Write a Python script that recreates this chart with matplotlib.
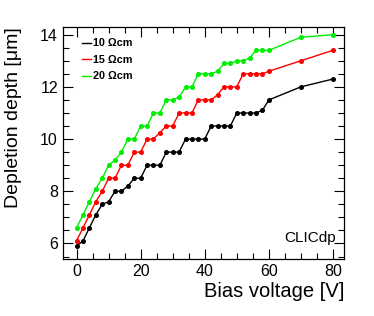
import matplotlib
matplotlib.use("Agg")
import matplotlib.pyplot as plt
from matplotlib.ticker import MultipleLocator

plt.rcParams["font.family"] = ["Liberation Sans", "DejaVu Sans"]

bias = [0, 2, 4, 6, 8, 10, 12, 14, 16, 18, 20, 22, 24, 26, 28, 30, 32,
        34, 36, 38, 40, 42, 44, 46, 48, 50, 52, 54, 56, 58, 60, 70, 80]
depth_10 = [5.9, 6.1, 6.6, 7.1, 7.5, 7.6, 8.0, 8.0, 8.2, 8.5, 8.5, 9.0, 9.0, 9.0,
            9.5, 9.5, 9.5, 10.0, 10.0, 10.0, 10.0, 10.5, 10.5, 10.5, 10.5,
            11.0, 11.0, 11.0, 11.0, 11.1, 11.5, 12.0, 12.3]
depth_15 = [6.1, 6.6, 7.1, 7.6, 8.0, 8.5, 8.5, 9.0, 9.0, 9.5, 9.5, 10.0, 10.0, 10.25,
            10.5, 10.5, 11.0, 11.0, 11.0, 11.5, 11.5, 11.5, 11.7, 12.0, 12.0,
            12.0, 12.5, 12.5, 12.5, 12.5, 12.6, 13.0, 13.4]
depth_20 = [6.6, 7.1, 7.6, 8.1, 8.5, 9.0, 9.2, 9.5, 10.0, 10.0, 10.5, 10.5, 11.0, 11.0,
            11.5, 11.5, 11.6, 12.0, 12.0, 12.5, 12.5, 12.5, 12.6, 12.9, 12.9,
            13.0, 13.0, 13.1, 13.4, 13.4, 13.4, 13.9, 14.0]
labels = ["10 Ωcm", "15 Ωcm", "20 Ωcm"]
colors = ["black", "#ff0000", "#00ee00"]

fig = plt.figure(figsize=(3.74, 3.16), dpi=100)
ax = fig.add_axes([0.168, 0.180, 0.752, 0.735])

for ys, lab, c in zip([depth_10, depth_15, depth_20], labels, colors):
    ax.plot(bias, ys, color=c, lw=1.0, marker="o", markersize=2.6, label=lab)

ax.set_xlim(-4.3, 83.5)
ax.set_ylim(5.4, 14.3)
ax.xaxis.set_major_locator(MultipleLocator(20))
ax.xaxis.set_minor_locator(MultipleLocator(5))
ax.yaxis.set_major_locator(MultipleLocator(2))
ax.yaxis.set_minor_locator(MultipleLocator(0.5))
ax.tick_params(which="both", direction="in", top=True, right=True, labelsize=11.5, width=0.8)
ax.tick_params(which="major", length=7)
ax.tick_params(which="minor", length=4)
for s in ax.spines.values():
    s.set_linewidth(0.9)

ax.set_xlabel("Bias voltage [V]", fontsize=14.5, loc="right", labelpad=2.5)
ax.set_ylabel("Depletion depth [μm]", fontsize=14, loc="top")
ax.yaxis.set_label_coords(-0.146, 1.0)

leg = ax.legend(loc="upper left", frameon=False, handlelength=0.9,
                handletextpad=0.15, labelspacing=0.6, borderpad=0, borderaxespad=0,
                bbox_to_anchor=(0.067, 0.95), prop={"weight": "bold", "size": 7.8})
for h in leg.legend_handles:
    h.set_marker("")

ax.text(0.97, 0.06, "CLICdp", transform=ax.transAxes, ha="right", va="bottom", fontsize=11)

fig.savefig("out.png", dpi=100)
